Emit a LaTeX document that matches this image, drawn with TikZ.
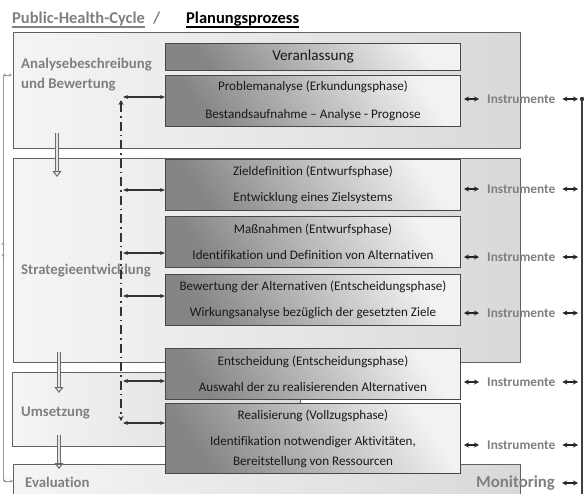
\documentclass[tikz,border=0pt]{standalone}
\usepackage{fontspec}
\setmainfont[Ligatures=CommonOff]{Carlito}
\usetikzlibrary{arrows.meta}
\tikzset{
  outerbox/.style={draw=black!62, line width=1.3pt, left color=black!4, right color=black!15, inner sep=0pt, anchor=north west},
  inbox/.style={draw=black!72, line width=1pt, top color=black!5, bottom color=black!48, shading angle=-55,
     minimum width=295pt, inner sep=0pt, anchor=north west, text=black!90, align=center,
     font=\fontsize{13.1}{26}\selectfont},
  lbl/.style={text=black!50, font=\bfseries\fontsize{14.8}{20}\selectfont, align=left, anchor=west, inner sep=0pt},
  instr/.style={text=black!50, font=\bfseries\fontsize{13.3}{15}\selectfont, anchor=west, inner sep=0pt},
  lar/.style={black!80, line width=1.1pt, {Stealth[length=5pt,width=4pt]}-{Stealth[length=5pt,width=4pt]}},
  rar/.style={black!85, line width=1.2pt, {Stealth[length=5pt,width=5pt]}-{Stealth[length=5pt,width=5pt]}},
  dashdotline/.style={black!80, line width=1.5pt, dash pattern=on 9pt off 4pt on 1.5pt off 4pt,
     {Stealth[length=5pt,width=5pt]}-{Stealth[length=5pt,width=5pt]}},
  bigarrow/.style={draw=black!58, double=black!10, double distance=1.8pt, line width=1pt,
     -{Triangle[open, length=6pt, width=9pt]}},
  fb/.style={black!40, line width=0.8pt},
  fbtip/.style={black!40, line width=0.8pt, {Stealth[length=3pt,width=3pt]}-{Stealth[length=3pt,width=3pt]}},
  ttl/.style={font=\bfseries\fontsize{16.5}{18}\selectfont, anchor=base west, inner sep=0pt}
}
\begin{document}
\begin{tikzpicture}[x=1pt,y=-1pt]
\clip (0,0) rectangle (584,493);
\fill[white] (0,0) rectangle (584,493);

% title
\node[ttl, text=black!50] (t1) at (12,23) {Public-Health-Cycle};
\node[ttl, text=black!50] (t2) at (153,23) {/};
\node[ttl, text=black] (t3) at (186,23) {Planungsprozess};
\draw[black!50, line width=1.2pt] ([yshift=-4pt]t1.base west) -- ([yshift=-4pt]t1.base east);
\draw[black, line width=1.2pt] ([yshift=-4pt]t3.base west) -- ([yshift=-4pt]t3.base east);

% outer boxes
\node[outerbox, minimum width=507pt, minimum height=116pt] (A) at (13,32) {};
\node[outerbox, minimum width=507pt, minimum height=204pt] (S) at (13,158) {};
\node[outerbox, minimum width=288pt, minimum height=74pt] (U) at (12,372) {};
\node[outerbox, minimum width=507pt, minimum height=60pt] (E) at (13,464) {};

% left labels
\node[lbl] (lA) at (21,75) {Analysebeschreibung\\und Bewertung};
\node[lbl] (lS) at (21,271) {Strategieentwicklung};
\node[lbl] (lU) at (21,413) {Umsetzung};
\node[lbl] (lE) at (25,482) {Evaluation};

% big gray arrows
\coordinate (a1) at (57,133); \coordinate (a2) at (57,177);
\coordinate (b1) at (59,352); \coordinate (b2) at (59,393);
\coordinate (c1) at (59,435); \coordinate (c2) at (59,469);
\draw[bigarrow] (a1) -- (a2);
\draw[bigarrow] (b1) -- (b2);
\draw[bigarrow] (c1) -- (c2);

% inner boxes
\node[inbox, minimum height=27pt, font=\fontsize{15.2}{17}\selectfont] (V) at (165,43) {Veranlassung};
\node[inbox, minimum height=51pt, font=\fontsize{13.1}{28}\selectfont] (P) at (165,75) {Problemanalyse (Erkundungsphase)\\Bestandsaufnahme -- Analyse - Prognose};
\node[inbox, minimum height=51pt] (Z) at (165,159) {Zieldefinition (Entwurfsphase)\\Entwicklung eines Zielsystems};
\node[inbox, minimum height=51pt] (M) at (165,216) {Maßnahmen (Entwurfsphase)\\Identifikation und Definition von Alternativen};
\node[inbox, minimum height=51pt] (B) at (165,274) {Bewertung der Alternativen (Entscheidungsphase)\\Wirkungsanalyse bezüglich der gesetzten Ziele};
\node[inbox, minimum height=51pt] (En) at (165,348) {Entscheidung (Entscheidungsphase)\\Auswahl der zu realisierenden Alternativen};
\node[inbox, minimum height=70pt] (R) at (165,403) {Realisierung (Vollzugsphase)\\Identifikation notwendiger Aktivitäten,\\[-6pt]Bereitstellung von Ressourcen};

% dash-dot line and left arrows
\coordinate (dtop) at (121,100); \coordinate (dbot) at (121,421);
\draw[dashdotline] (dtop) -- (dbot);
\coordinate (lP) at (123,97);
\coordinate (lZ) at (123,190);
\coordinate (lM) at (123,253);
\coordinate (lB) at (123,296);
\coordinate (lEn) at (123,381);
\coordinate (lR) at (123,423);
\draw[lar] (lP) -- (lP -| P.west);
\draw[lar] (lZ) -- (lZ -| Z.west);
\draw[lar] (lM) -- (lM -| M.west);
\draw[lar] (lB) -- (lB -| B.west);
\draw[lar] (lEn) -- (lEn -| En.west);
\draw[lar] (lR) -- (lR -| R.west);

% Instrumente
\node[instr] (iP) at (487,99) {Instrumente};
\node[instr] (iZ) at (487,189) {Instrumente};
\node[instr] (iM) at (487,257) {Instrumente};
\node[instr] (iB) at (487,313) {Instrumente};
\node[instr] (iEn) at (487,382) {Instrumente};
\node[instr] (iR) at (487,445) {Instrumente};
\node[instr, font=\bfseries\fontsize{16.8}{18}\selectfont] (mon) at (476,483) {Monitoring};
\foreach \n/\b in {iP/P, iZ/Z, iM/M, iB/B, iEn/En, iR/R}{
  \draw[rar, shorten <=3pt, shorten >=8pt] (\n.west -| \b.east) -- (\n.west);
}
% right vertical line
\coordinate (rP) at (582,99);
\coordinate (rEnd) at (582,500);
\draw[black!75, line width=1.5pt] (rP) -- (rEnd);
\fill[black!80] (rP) circle (2.2pt);
\foreach \n in {iP, iZ, iM, iB, iEn, iR, mon}{
  \draw[rar, shorten <=7pt, shorten >=4pt] (\n.east) -- (\n.east -| rP);
}

% left feedback line
\coordinate (fbE) at (13,481);
\coordinate (fbA) at (12,75);
\coordinate (fb1) at (3,481);
\coordinate (fb2) at (3,75);
\draw[fb] (fb1) -- (fb2);
\draw[fbtip] (fb1) -- (fbE);
\draw[fbtip] (fb2) -- (fbA);
\coordinate (fm1) at (3,242); \coordinate (fm2) at (3,257);
\draw[fbtip] (fm1) -- (fm2);
\end{tikzpicture}
\end{document}
